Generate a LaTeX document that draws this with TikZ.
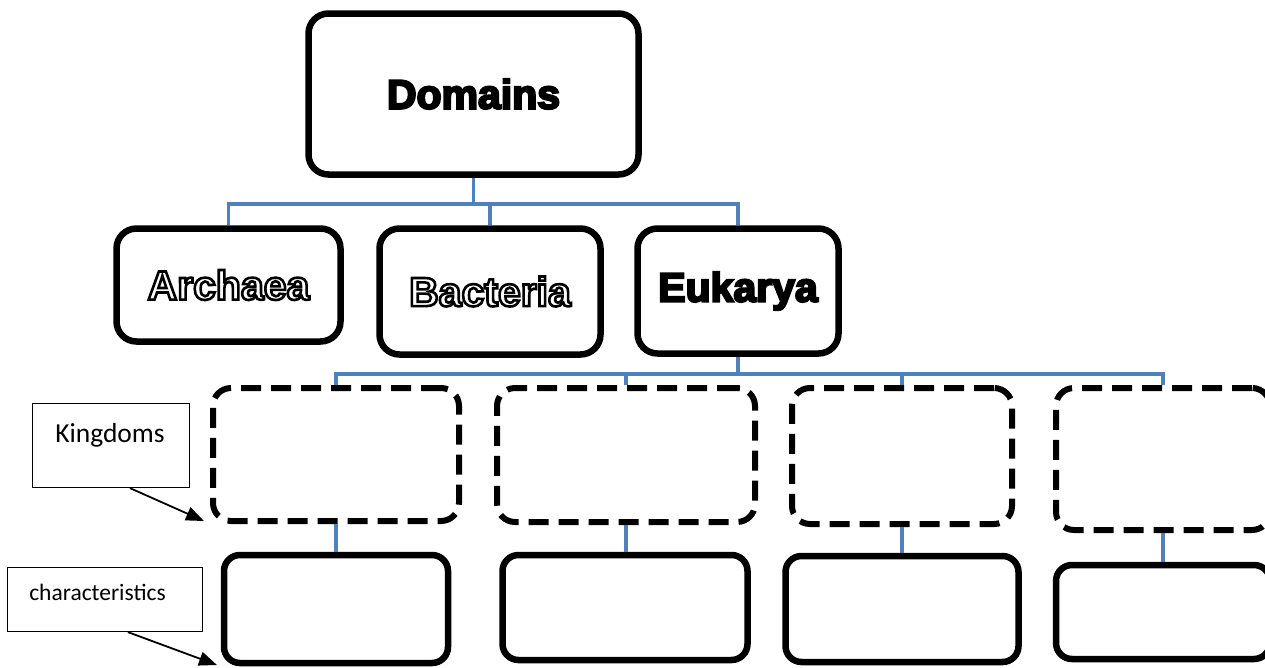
\documentclass[tikz,border=0pt]{standalone}
\usepackage{fontspec}
\setmainfont{Carlito}
\newfontfamily\headfont{Liberation Sans}
\usetikzlibrary{arrows.meta,calc}
\definecolor{connblue}{RGB}{79,129,189}
% heavy solid text: fill + stroke
\newcommand\soltext[1]{\special{pdf:literal direct 2 Tr 2.2 w 0 G}#1\special{pdf:literal direct 0 Tr}}
% outlined text: white fill, black stroke
\newcommand\outtext[1]{\textcolor{white}{\special{pdf:literal direct 2 Tr 2.6 w 0 G}#1\special{pdf:literal direct 0 Tr}}}
\begin{document}
\begin{tikzpicture}[x=1pt,y=-1pt,
  headbox/.style={draw, line width=6.5pt, rounded corners=20pt, inner sep=0pt,
    font=\headfont\bfseries\fontsize{41}{48}\selectfont},
  kingbox/.style={draw, line width=6pt, rounded corners=18pt, dash pattern=on 20pt off 10pt},
  charbox/.style={draw, line width=6.5pt, rounded corners=16pt},
  callout/.style={draw, line width=1.2pt, inner sep=0pt},
  calltext/.style={inner sep=0pt},
  conn/.style={draw=connblue, line width=3.5pt},
  callarrow/.style={draw, line width=1.8pt, -{Triangle[length=18pt,width=14pt]}}]
\useasboundingbox (0,0) rectangle (1265,667);
\fill[white] (0,0) rectangle (1265,667);

\coordinate (bus1) at (473.5,204);
\coordinate (bus2) at (738,374);

% top level
\node[headbox, minimum width=330pt, minimum height=161pt] (dom) at (473.5,94) {\soltext{Domains}};
\node[headbox, minimum width=224pt, minimum height=113pt] (arc) at (228.5,285) {\outtext{Archaea}};
\node[headbox, minimum width=221pt, minimum height=126pt] (bac) at (490,291.5) {\outtext{Bacteria}};
\node[headbox, minimum width=201pt, minimum height=125pt] (euk) at (738,291) {\soltext{Eukarya}};

% kingdoms
\node[kingbox, minimum width=246pt, minimum height=133pt] (k1) at (336,454.5) {};
\node[kingbox, minimum width=258pt, minimum height=134pt] (k2) at (626,455) {};
\node[kingbox, minimum width=220pt, minimum height=136pt] (k3) at (902,456) {};
\node[kingbox, minimum width=214pt, minimum height=142pt] (k4) at (1163,459) {};

% characteristics
\node[charbox, minimum width=224pt, minimum height=108pt] (c1) at (336,609) {};
\node[charbox, minimum width=245pt, minimum height=105pt] (c2) at (625,607.5) {};
\node[charbox, minimum width=233pt, minimum height=106pt] (c3) at (902,609) {};
\node[charbox, minimum width=214pt, minimum height=94pt] (c4) at (1163,612) {};

% connectors
\draw[conn] (dom.south) -- (bus1);
\draw[conn] (arc.north) |- (bus1) -| (euk.north);
\draw[conn] (bac.north) -- (bac.north |- bus1);
\draw[conn] (euk.south) -- (bus2);
\draw[conn] (k1.north) |- (bus2) -| (k4.north);
\draw[conn] (k2.north) -- (k2.north |- bus2);
\draw[conn] (k3.north) -- (k3.north |- bus2);
\draw[conn] (k1.south) -- (k1.south |- c1.north);
\draw[conn] (k2.south) -- (k2.south |- c2.north);
\draw[conn] (k3.south) -- (k3.south |- c3.north);
\draw[conn] (k4.south) -- (k4.south |- c4.north);

% callouts
\node[callout, minimum width=157pt, minimum height=84pt] (kbox) at (111,445.5) {};
\node[calltext, font=\fontsize{27.5}{32}\selectfont, anchor=base] (ktext) at (110,442) {Kingdoms};
\node[callout, minimum width=195pt, minimum height=64pt] (cbox) at (105,599.5) {};
\node[calltext, font=\fontsize{23.5}{27}\selectfont, anchor=base] (ctext) at (97.5,600) {characteristics};
\coordinate (ka) at (204,521);
\coordinate (ca) at (217,665);
\draw[callarrow] ([xshift=98pt]kbox.south west) -- (ka);
\draw[callarrow] ([xshift=121pt]cbox.south west) -- (ca);
\end{tikzpicture}
\end{document}
